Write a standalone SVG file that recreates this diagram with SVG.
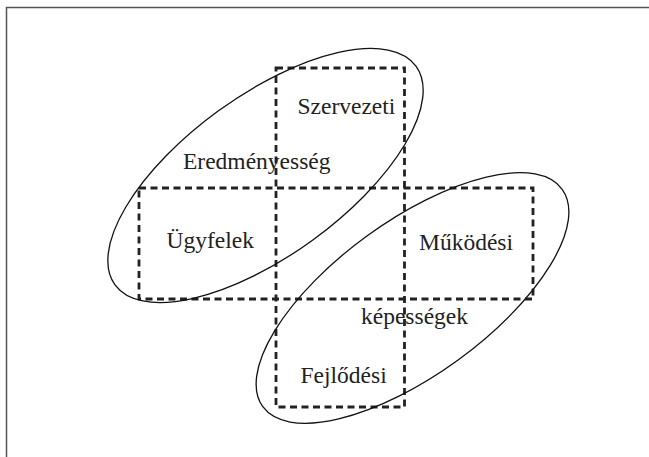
<svg xmlns="http://www.w3.org/2000/svg" width="649" height="457" viewBox="0 0 649 457">
<style>
.frame{fill:none;stroke:#555;stroke-width:1.5}
.box{fill:none;stroke:#222;stroke-width:2.8;stroke-dasharray:7 4.5}
.ell{fill:none;stroke:#111;stroke-width:1.3}
.lbl{font-family:"Liberation Serif","Times New Roman",serif;font-size:23.5px;fill:#222}
</style>
<rect width="649" height="457" fill="#fff"/>
<path class="frame" d="M6.5 457 V7.5 H649"/>
<g id="boxes">
<rect id="column" class="box" x="276" y="68" width="128.5" height="339"/>
<rect id="band" class="box" x="139" y="188" width="394" height="111"/>
</g>
<g id="connectors"/>
<g id="eredmenyesseg">
<ellipse class="ell" cx="265.5" cy="175.5" rx="186" ry="80" transform="rotate(-36 265.5 175.5)"/>
<text class="lbl" x="183" y="169">Eredményesség</text>
</g>
<g id="kepessegek">
<ellipse class="ell" cx="412.5" cy="298" rx="185" ry="77" transform="rotate(-36 412.5 298)"/>
<text class="lbl" x="361" y="324">képességek</text>
</g>
<g id="szervezeti"><text class="lbl" x="297.5" y="114">Szervezeti</text></g>
<g id="ugyfelek"><text class="lbl" x="166.5" y="248">Ügyfelek</text></g>
<g id="mukodesi"><text class="lbl" x="419" y="250">Működési</text></g>
<g id="fejlodesi"><text class="lbl" x="300.5" y="383">Fejlődési</text></g>
</svg>
